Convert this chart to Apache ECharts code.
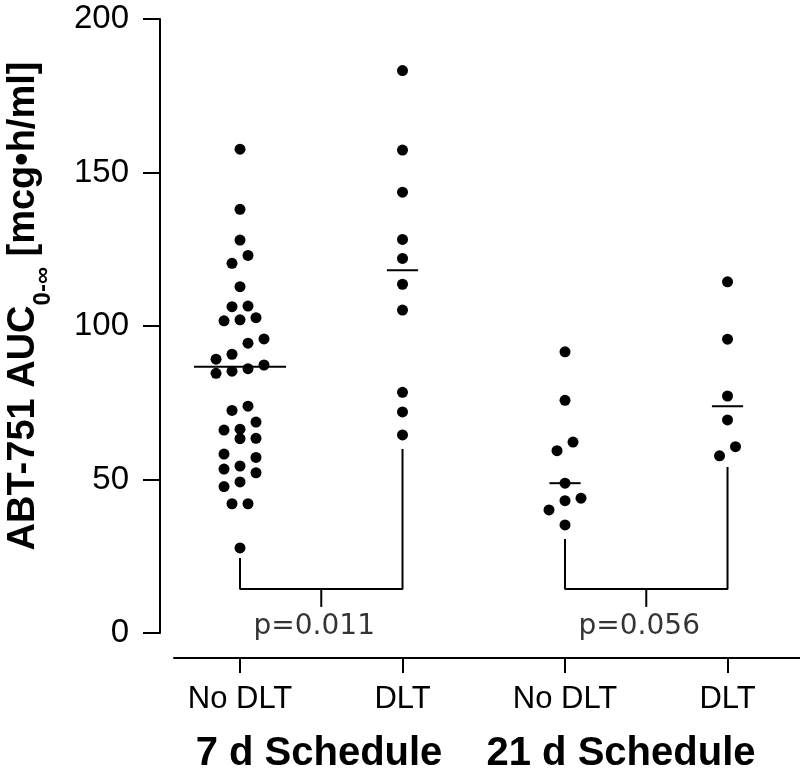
<!DOCTYPE html>
<html>
<head>
<meta charset="utf-8">
<script src="https://cdn.jsdelivr.net/npm/echarts@6/dist/echarts.min.js"></script>
<style>html,body{margin:0;padding:0;background:#fff;}#c{width:800px;height:776px;}</style>
</head>
<body>
<div id="c"></div>
<script>
// ---- data ----
const categories = ['No DLT', 'DLT', 'No DLT', 'DLT'];
const groupLabels = ['7 d Schedule', '21 d Schedule'];
const pValueLabels = ['p=0.011', 'p=0.056'];
const yTicks = { min: 0, max: 200, interval: 50 };

// 7 d schedule, No DLT (value, beeswarm column)
const noDlt7Values = [157.6, 138.0, 128.0, 123.0, 120.4, 112.8, 106.3, 106.5, 101.7, 102.0, 102.7,
  95.8, 94.4, 90.8, 89.2, 87.3, 86.1, 85.3, 84.6, 73.9, 72.5, 68.7, 66.4, 66.1, 63.4, 63.3,
  58.3, 57.2, 54.4, 53.4, 52.2, 49.2, 47.7, 42.1, 42.1, 27.7];
const noDlt7Cols = [0, 0, 0, 1, -1, 0, -1, 1, -2, 0, 2,
  3, 1, -1, -3, 3, 1, -1, -3, 1, -1, 2, 0, -2, 2, 0,
  -2, 2, 0, -2, 2, 0, -2, -1, 1, 0];
// 7 d schedule, DLT
const dlt7Values = [183.2, 157.3, 143.6, 128.2, 122.0, 113.6, 105.2, 78.4, 72.0, 64.5];
const dlt7Cols = [0, 0, 0, 0, 0, 0, 0, 0, 0, 0];
// 21 d schedule, No DLT
const noDlt21Values = [91.6, 75.8, 62.2, 59.4, 48.8, 43.9, 43.1, 40.1, 35.2];
const noDlt21Cols = [0, 0, 1, -1, 0, 2, 0, -2, 0];
// 21 d schedule, DLT
const dlt21Values = [114.4, 95.7, 77.2, 69.4, 60.7, 57.7];
const dlt21Cols = [0, 0, 0, 0, 1, -1];

const medians = [86.7, 118.2, 48.8, 73.9];

// ---- layout / style constants ----
const SWARM_STEP = 0.0492;
const MEDIAN_HALF = [0.283, 0.096, 0.096, 0.096];
const BRACKETS = [
  { a: 1, b: 2, topA: 24.4, topB: 59.9, base: 14.3, tick: 8.5 },
  { a: 3, b: 4, topA: 30.6, topB: 54.1, base: 14.3, tick: 8.5 }
];
const P_LABEL_Y = 1.95;
const FONT = 'Liberation Sans, Arial, Helvetica, sans-serif';

const groups = [
  [noDlt7Values, noDlt7Cols],
  [dlt7Values, dlt7Cols],
  [noDlt21Values, noDlt21Cols],
  [dlt21Values, dlt21Cols]
];

const series = [];
groups.forEach(function (g, i) {
  series.push({
    type: 'scatter',
    symbol: 'circle',
    symbolSize: 11,
    itemStyle: { color: '#000', opacity: 1 },
    silent: true,
    clip: false,
    data: g[0].map(function (v, k) { return [i + 1 + g[1][k] * SWARM_STEP, v]; })
  });
});

series.push({
  type: 'custom',
  silent: true,
  clip: false,
  renderItem: function (params, api) {
    const x = api.value(0), y = api.value(1), hw = api.value(2);
    const p1 = api.coord([x - hw, y]);
    const p2 = api.coord([x + hw, y]);
    return { type: 'line', shape: { x1: p1[0], y1: p1[1], x2: p2[0], y2: p2[1] },
      style: { stroke: '#000', lineWidth: 2 } };
  },
  data: medians.map(function (m, i) { return [i + 1, m, MEDIAN_HALF[i]]; })
});

BRACKETS.forEach(function (br, i) {
  series.push({
    type: 'line', silent: true, symbol: 'none', clip: false,
    lineStyle: { color: '#000', width: 2 },
    data: [[br.a, br.topA], [br.a, br.base], [br.b, br.base], [br.b, br.topB]]
  });
  const mid = (br.a + br.b) / 2;
  series.push({
    type: 'line', silent: true, symbol: 'none', clip: false,
    lineStyle: { color: '#000', width: 2 },
    data: [[mid, br.base], [mid, br.tick]]
  });
  series.push({
    type: 'scatter', silent: true, symbolSize: 1, clip: false,
    itemStyle: { color: 'rgba(0,0,0,0)' },
    label: { show: true, position: 'inside', formatter: pValueLabels[i], color: '#000',
      fontSize: 28, fontFamily: 'DejaVu Sans, sans-serif', offset: [-7, 0] },
    data: [[mid, P_LABEL_Y]]
  });
});

const chart = echarts.init(document.getElementById('c'), null, { renderer: 'canvas' });
chart.setOption({
  animation: false,
  backgroundColor: '#fff',
  grid: { left: 174, right: 0, top: 19, bottom: 143 },
  xAxis: {
    type: 'value', min: 0.5938, max: 4.446, offset: 25,
    splitLine: { show: false },
    axisLine: { show: true, onZero: false, lineStyle: { color: '#000', width: 2 } },
    axisTick: { show: true, length: 15, customValues: [1, 2, 3, 4], lineStyle: { color: '#000', width: 2 } },
    axisLabel: {
      customValues: [1, 2, 3, 4], margin: 26, color: '#000', fontSize: 31, fontFamily: FONT,
      formatter: function (v) { return categories[Math.round(v) - 1]; }
    }
  },
  yAxis: {
    type: 'value', min: yTicks.min, max: yTicks.max, interval: yTicks.interval, offset: 14,
    splitLine: { show: false },
    axisLine: { show: true, onZero: false, lineStyle: { color: '#000', width: 2 } },
    axisTick: { show: true, length: 17, lineStyle: { color: '#000', width: 2 } },
    axisLabel: { margin: 31, color: '#000', fontSize: 33, fontFamily: FONT }
  },
  graphic: [
    {
      type: 'text', x: 30, y: 306, rotation: Math.PI / 2,
      style: {
        text: '{a|ABT-751 AUC}{s|0-∞}{a| [mcg•h/ml]}',
        align: 'center', verticalAlign: 'middle',
        rich: {
          a: { fontSize: 38, fontWeight: 'bold', fontFamily: FONT, fill: '#000', lineHeight: 38, verticalAlign: 'top' },
          s: { fontSize: 24, fontWeight: 'bold', fontFamily: FONT, fill: '#000', lineHeight: 50, verticalAlign: 'bottom' }
        }
      }
    },
    {
      type: 'text', x: 319, y: 754,
      style: { text: groupLabels[0], align: 'center', verticalAlign: 'middle', fontSize: 40,
        fontWeight: 'bold', fontFamily: FONT, fill: '#000' }
    },
    {
      type: 'text', x: 621, y: 754,
      style: { text: groupLabels[1], align: 'center', verticalAlign: 'middle', fontSize: 40,
        fontWeight: 'bold', fontFamily: FONT, fill: '#000' }
    }
  ],
  series: series
});
</script>
</body>
</html>
